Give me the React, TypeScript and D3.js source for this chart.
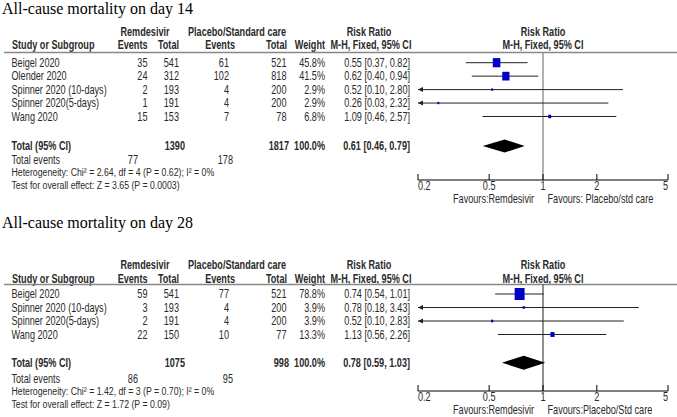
import React from 'react';
import { scaleLog } from 'd3';

// day 14
const d14Studies = ['Beigel 2020', 'Olender 2020', 'Spinner 2020 (10-days)', 'Spinner 2020(5-days)', 'Wang 2020'];
const d14RemEvents = [35, 24, 2, 1, 15];
const d14RemTotal = [541, 312, 193, 191, 153];
const d14PlaEvents = [61, 102, 4, 4, 7];
const d14PlaTotal = [521, 818, 200, 200, 78];
const d14Weight = [45.8, 41.5, 2.9, 2.9, 6.8];
const d14RR = [0.55, 0.62, 0.52, 0.26, 1.09];
const d14Lo = [0.37, 0.40, 0.10, 0.03, 0.46];
const d14Hi = [0.82, 0.94, 2.80, 2.32, 2.57];
const d14Total = { rem: 1390, pla: 1817, remEv: 77, plaEv: 178, rr: 0.61, lo: 0.46, hi: 0.79 };
const d14Het = 'Heterogeneity: Chi\u00b2 = 2.64, df = 4 (P = 0.62); I\u00b2 = 0%';
const d14Test = 'Test for overall effect: Z = 3.65 (P = 0.0003)';

// day 28
const d28Studies = ['Beigel 2020', 'Spinner 2020 (10-days)', 'Spinner 2020(5-days)', 'Wang 2020'];
const d28RemEvents = [59, 3, 2, 22];
const d28RemTotal = [541, 193, 191, 150];
const d28PlaEvents = [77, 4, 4, 10];
const d28PlaTotal = [521, 200, 200, 77];
const d28Weight = [78.8, 3.9, 3.9, 13.3];
const d28RR = [0.74, 0.78, 0.52, 1.13];
const d28Lo = [0.54, 0.18, 0.10, 0.56];
const d28Hi = [1.01, 3.43, 2.83, 2.26];
const d28Total = { rem: 1075, pla: 998, remEv: 86, plaEv: 95, rr: 0.78, lo: 0.59, hi: 1.03 };
const d28Het = 'Heterogeneity: Chi\u00b2 = 1.42, df = 3 (P = 0.70); I\u00b2 = 0%';
const d28Test = 'Test for overall effect: Z = 1.72 (P = 0.09)';

const ticks = [0.2, 0.5, 1, 2, 5];
const tickLabels = ['0.2', '0.5', '1', '2', '5'];

const FONT = '"Liberation Sans", Arial, sans-serif';
const TXT = '#2a2a2a';
const NARROW = 0.76; // fake Arial Narrow by squeezing Liberation Sans

const x = scaleLog().domain([0.2, 5]).range([418, 668]);
const fmt = (v: number) => v.toFixed(2);

// narrow text: y is the row centre
function T({ x, y, anchor = 'start', bold = false, size, children }: any) {
  return (
    <text
      transform={`translate(${x},${y + 4.3}) scale(${NARROW},1)`}
      textAnchor={anchor}
      fontWeight={bold ? 'bold' : 'normal'}
      fontSize={size}
    >{children}</text>
  );
}

function Panel({ title, studies, remEv, remN, plaEv, plaN, weight, rr, lo, hi, total, het, test, favR, lay }) {
  const rowY = (i: number) => lay.row0 + i * lay.step;
  return (
    <g fontFamily={FONT} fontSize={12} fill={TXT}>
      <text x={2} y={lay.title} fontFamily='"Liberation Serif", "Times New Roman", serif' fontSize={16} fill="#000">{title}</text>

      {/* headers */}
      <T x={145} y={lay.group} anchor="middle" bold>Remdesivir</T>
      <T x={188} y={lay.group} bold>Placebo/Standard care</T>
      <T x={369} y={lay.group} anchor="middle" bold>Risk Ratio</T>
      <T x={543} y={lay.group} anchor="middle" bold>Risk Ratio</T>
      <T x={12} y={lay.head} bold>Study or Subgroup</T>
      <T x={147.5} y={lay.head} anchor="end" bold>Events</T>
      <T x={179} y={lay.head} anchor="end" bold>Total</T>
      <T x={235} y={lay.head} anchor="end" bold>Events</T>
      <T x={287} y={lay.head} anchor="end" bold>Total</T>
      <T x={325} y={lay.head} anchor="end" bold>Weight</T>
      <T x={371} y={lay.head} anchor="middle" bold>M-H, Fixed, 95% CI</T>
      <T x={543} y={lay.head} anchor="middle" bold>M-H, Fixed, 95% CI</T>
      <line x1={4} x2={677} y1={lay.rule} y2={lay.rule} stroke="#888" strokeWidth={1.5} />

      {/* null line */}
      <line x1={x(1)} x2={x(1)} y1={lay.rule} y2={lay.axis} stroke={lay.nullColor} strokeWidth={lay.nullWidth} />

      {studies.map((s, i) => {
        const y = rowY(i);
        const left = Math.max(x(lo[i]), x(0.2));
        const clipped = lo[i] < 0.2;
        const sw = Math.max(2, 1.12 * Math.sqrt(weight[i]));
        const sh = Math.max(2, 1.35 * Math.sqrt(weight[i]));
        return (
          <g key={s}>
            <T x={11.5} y={y}>{s}</T>
            <T x={147.5} y={y} anchor="end">{remEv[i]}</T>
            <T x={179} y={y} anchor="end">{remN[i]}</T>
            <T x={229} y={y} anchor="end">{plaEv[i]}</T>
            <T x={286.5} y={y} anchor="end">{plaN[i]}</T>
            <T x={325} y={y} anchor="end">{weight[i].toFixed(1)}%</T>
            <T x={410} y={y} anchor="end">{`${fmt(rr[i])} [${fmt(lo[i])}, ${fmt(hi[i])}]`}</T>
            <line x1={left} x2={x(hi[i])} y1={y} y2={y} stroke="#222" strokeWidth={1} />
            {clipped && <path d={`M${left},${y} l5,-2.5 v5 z`} fill="#222" />}
            <rect x={x(rr[i]) - sw / 2} y={y - sh / 2} width={sw} height={sh} fill="#0000c8" />
          </g>
        );
      })}

      {/* totals */}
      <T x={11.5} y={lay.total} bold>Total (95% CI)</T>
      <T x={185} y={lay.total} anchor="end" bold>{total.rem}</T>
      <T x={289} y={lay.total} anchor="end" bold>{total.pla}</T>
      <T x={325} y={lay.total} anchor="end" bold>100.0%</T>
      <T x={410} y={lay.total} anchor="end" bold>{`${fmt(total.rr)} [${fmt(total.lo)}, ${fmt(total.hi)}]`}</T>
      <path
        d={`M${x(total.lo)},${lay.total} L${x(total.rr)},${lay.total - lay.dia} L${x(total.hi)},${lay.total} L${x(total.rr)},${lay.total + lay.dia} Z`}
        fill="#000"
      />
      <T x={11.5} y={lay.events}>Total events</T>
      <T x={138} y={lay.events} anchor="end">{total.remEv}</T>
      <T x={233} y={lay.events} anchor="end">{total.plaEv}</T>
      <T x={11.5} y={lay.het} size={11.5}>{het}</T>
      <T x={11.5} y={lay.test} size={11.5}>{test}</T>

      {/* axis */}
      <line x1={x(0.2)} x2={x(5)} y1={lay.axis} y2={lay.axis} stroke="#000" strokeWidth={1} />
      {ticks.map((v, i) => (
        <g key={v}>
          <line x1={x(v)} x2={x(v)} y1={lay.axis - 6} y2={lay.axis} stroke="#000" strokeWidth={1} />
          <T
            x={x(v)}
            y={lay.axis + 6}
            anchor={i === 0 ? 'start' : i === ticks.length - 1 ? 'end' : 'middle'}
          >{tickLabels[i]}</T>
        </g>
      ))}
      <T x={x(1) - 9} y={lay.axis + 18.5} anchor="end">Favours:Remdesivir</T>
      <T x={x(1) + 4.5} y={lay.axis + 18.5}>{favR}</T>
    </g>
  );
}

const lay14 = {
  title: 14, group: 31.5, head: 45, rule: 52.5, row0: 62.7, step: 13.45, total: 146,
  events: 160, het: 172, test: 185, axis: 180, dia: 6.5,
  nullColor: '#999', nullWidth: 1.5,
};
const lay28 = {
  title: 228, group: 264.3, head: 278.3, rule: 284.5, row0: 294, step: 13.5, total: 362.7,
  events: 378.5, het: 391, test: 404, axis: 391, dia: 7,
  nullColor: '#222', nullWidth: 1,
};

export default function App() {
  return (
    <svg width={677} height={417} style={{ position: 'absolute', left: 0, top: 0, background: '#fff' }}>
      <Panel
        title="All-cause mortality on day 14"
        studies={d14Studies} remEv={d14RemEvents} remN={d14RemTotal} plaEv={d14PlaEvents} plaN={d14PlaTotal}
        weight={d14Weight} rr={d14RR} lo={d14Lo} hi={d14Hi} total={d14Total} het={d14Het} test={d14Test}
        favR="Favours: Placebo/std care" lay={lay14}
      />
      <Panel
        title="All-cause mortality on day 28"
        studies={d28Studies} remEv={d28RemEvents} remN={d28RemTotal} plaEv={d28PlaEvents} plaN={d28PlaTotal}
        weight={d28Weight} rr={d28RR} lo={d28Lo} hi={d28Hi} total={d28Total} het={d28Het} test={d28Test}
        favR="Favours:Placebo/Std care" lay={lay28}
      />
    </svg>
  );
}
